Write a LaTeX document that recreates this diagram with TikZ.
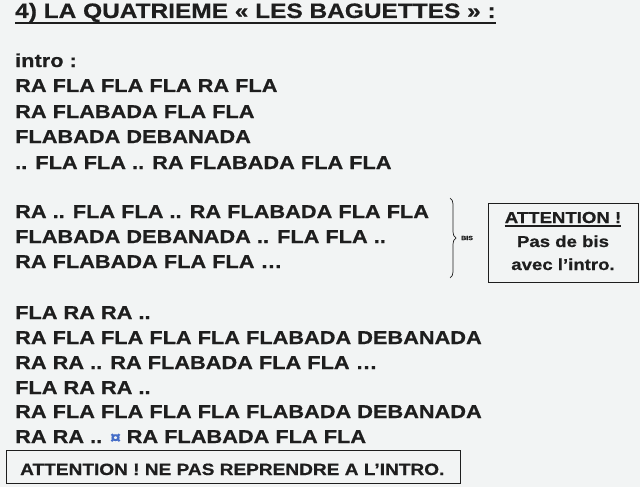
\documentclass[tikz,border=0pt]{standalone}
\usepackage{fontspec}
\usepackage{tikz}
\usetikzlibrary{positioning, decorations.pathreplacing}
\newfontfamily\lyrfont{Liberation Sans}[FakeStretch=1.17, FakeBold=0.6]
\definecolor{paper}{RGB}{242,244,244}
\definecolor{ink}{RGB}{30,30,30}
\definecolor{symblue}{RGB}{70,110,200}

\begin{document}
\begin{tikzpicture}[x=1pt, y=-1pt, every node/.style={inner sep=0pt, text=ink},
  lyric/.style={anchor=base west, font=\lyrfont\bfseries\fontsize{18.6}{22}\selectfont},
  notebox/.style={draw=ink, line width=1.1pt}]
  \useasboundingbox[fill=paper] (0,0) rectangle (640,487);

  % Title
  \node[anchor=base west, font=\lyrfont\bfseries\fontsize{20.9}{24}\selectfont] (title) at (15,18) {4) LA QUATRIEME « LES BAGUETTES » :};
  \draw[ink, line width=1.4pt] ([yshift=-5pt]title.base west) -- ([yshift=-5pt]title.base east);

  % Intro
  \node[lyric] (intro) at (15,67) {intro :};
  \node[lyric] (i1) at (15,92) {RA FLA FLA FLA RA FLA};
  \node[lyric] (i2) at (15,118) {RA FLABADA FLA FLA};
  \node[lyric] (i3) at (15,143) {FLABADA DEBANADA};
  \node[lyric] (i4) at (15,169) {.. FLA FLA .. RA FLABADA FLA FLA};

  % Bis block
  \node[lyric] (b1) at (15,218) {RA .. FLA FLA .. RA FLABADA FLA FLA};
  \node[lyric] (b2) at (15,243) {FLABADA DEBANADA .. FLA FLA ..};
  \node[lyric] (b3) at (15,268) {RA FLABADA FLA FLA \dots};
  \coordinate (bratop) at (450,198);
  \coordinate (brabot) at (450,278);
  \draw[ink, line width=0.7pt, decorate, decoration={brace, amplitude=6pt}] (bratop) -- (brabot) coordinate[midway, xshift=7pt] (tip);
  \node[anchor=west, font=\lyrfont\bfseries\fontsize{6}{7}\selectfont] (bis) at ([xshift=4pt]tip) {BIS};

  % Note box
  \node[notebox, minimum width=150pt, minimum height=79pt, anchor=north west] (note) at (488,203) {};
  \node[anchor=base, font=\lyrfont\bfseries\fontsize{15.9}{19}\selectfont] (n1) at (563,223) {ATTENTION !};
  \draw[ink, line width=1.1pt] ([yshift=-3pt]n1.base west) -- ([yshift=-3pt]n1.base east);
  \node[anchor=base, font=\lyrfont\bfseries\fontsize{15.9}{19}\selectfont] (n2) at (563,247) {Pas de bis};
  \node[anchor=base, font=\lyrfont\bfseries\fontsize{15.9}{19}\selectfont] (n3) at (563,270) {avec l’intro.};

  % Third block
  \node[lyric] (c1) at (15,319) {FLA RA RA ..};
  \node[lyric] (c2) at (15,344) {RA FLA FLA FLA FLA FLABADA DEBANADA};
  \node[lyric] (c3) at (15,369) {RA RA .. RA FLABADA FLA FLA \dots};
  \node[lyric] (c4) at (15,394) {FLA RA RA ..};
  \node[lyric] (c5) at (15,418) {RA FLA FLA FLA FLA FLABADA DEBANADA};
  \node[lyric] (c6) at (15,443) {RA RA .. {\color{symblue}\fontsize{16}{18}\selectfont ¤} RA FLABADA FLA FLA};

  % Bottom warning
  \node[notebox, minimum width=454pt, minimum height=33pt, anchor=north west] (warn) at (6,450) {};
  \node[anchor=base west, font=\lyrfont\bfseries\fontsize{16.3}{19}\selectfont] (w1) at (20,475) {ATTENTION ! NE PAS REPRENDRE A L’INTRO.};
\end{tikzpicture}
\end{document}
